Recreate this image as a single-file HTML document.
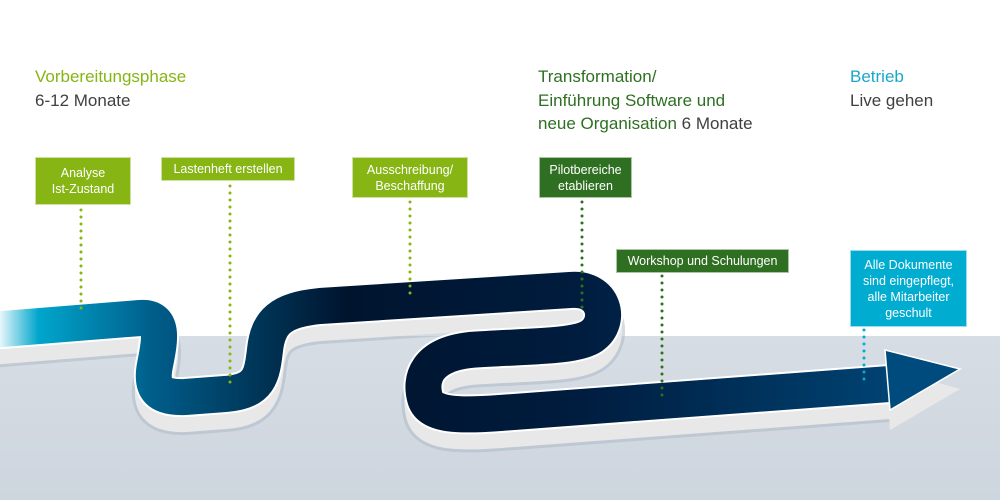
<!DOCTYPE html>
<html><head><meta charset="utf-8"><style>
body{margin:0;width:1000px;height:500px;overflow:hidden;background:#fff;font-family:"Liberation Sans",sans-serif;position:relative}
.t{position:absolute;font-size:17px;line-height:23.5px;color:#404040}
.b{position:absolute;color:#fff;font-size:12.5px;line-height:16px;text-align:center;display:flex;align-items:center;justify-content:center;box-sizing:border-box;border:1px solid rgba(255,255,255,.6)}
.lg{background:#86b514}.dg{background:#2f6f22}.cy{background:#00acd0}
</style></head><body>
<svg width="1000" height="500" style="position:absolute;left:0;top:0">
<defs>
<linearGradient id="rd" x1="0" x2="960" gradientUnits="userSpaceOnUse">
<stop offset="0" stop-color="#e6f6fb"/><stop offset="0.04" stop-color="#00a6cc"/><stop offset="0.16" stop-color="#005d8a"/><stop offset="0.36" stop-color="#00142e"/><stop offset="0.6" stop-color="#001c3e"/><stop offset="1" stop-color="#004b7e"/>
</linearGradient>
<linearGradient id="fl" x1="0" y1="336" x2="0" y2="500" gradientUnits="userSpaceOnUse"><stop offset="0" stop-color="#d7dde4"/><stop offset="1" stop-color="#cdd5de"/></linearGradient>
<path id="road" d="M -10 330 L 140 318 C 165 316, 160 340, 155 365 C 150 390, 160 398, 185 397 L 225 394 C 260 392, 262 375, 265 350 C 268 322, 280 310, 320 306 L 570 290 C 605 287, 612 322, 592 336 C 575 348, 520 346, 470 350 C 425 355, 420 380, 425 398 C 430 416, 460 416, 500 413 L 890 384"/>
</defs>
<rect x="0" y="336" width="1000" height="164" fill="url(#fl)"/>
<g transform="translate(0,16)" fill="none" stroke-linejoin="round">
<use href="#road" stroke="#aab8c6" stroke-width="44" opacity=".5"/>
<use href="#road" stroke="#e8e8e8" stroke-width="38"/>
<polygon points="886,352 960,373 890,414" fill="#e8e8e8"/>
</g>
<g fill="none">
<use href="#road" stroke="#fff" stroke-width="40" stroke-linejoin="round"/>
<use href="#road" stroke="url(#rd)" stroke-width="36" stroke-linejoin="round"/>
</g>
<polygon points="885,350 960,369 890,410" fill="#004b7e" stroke="#fff" stroke-width="1.5"/>
<g stroke-width="3" stroke-linecap="round" stroke-dasharray="0 7">
<line x1="81" y1="210" x2="81" y2="312" stroke="#86b514"/>
<line x1="230" y1="186" x2="230" y2="385" stroke="#86b514"/>
<line x1="410" y1="202" x2="410" y2="295" stroke="#86b514"/>
<line x1="582" y1="202" x2="582" y2="310" stroke="#2f6f22"/>
<line x1="662" y1="276" x2="662" y2="402" stroke="#2f6f22"/>
<line x1="864" y1="330" x2="864" y2="380" stroke="#00acd0"/>
</g>
</svg>
<div class="t" style="left:35px;top:65px"><span style="color:#86b514">Vorbereitungsphase</span><br>6-12 Monate</div>
<div class="t" style="left:538px;top:65px"><span style="color:#2f6f22">Transformation/<br>Einführung Software und<br>neue Organisation</span> 6 Monate</div>
<div class="t" style="left:850px;top:65px"><span style="color:#1aa6cc">Betrieb</span><br>Live gehen</div>
<div class="b lg" style="left:35px;top:157px;width:96px;height:48px">Analyse<br>Ist-Zustand</div>
<div class="b lg" style="left:161px;top:157px;width:134px;height:24px">Lastenheft erstellen</div>
<div class="b lg" style="left:352px;top:157px;width:116px;height:41px">Ausschreibung/<br>Beschaffung</div>
<div class="b dg" style="left:539px;top:157px;width:93px;height:41px">Pilotbereiche<br>etablieren</div>
<div class="b dg" style="left:616px;top:249px;width:173px;height:24px">Workshop und Schulungen</div>
<div class="b cy" style="left:850px;top:250px;width:117px;height:77px">Alle Dokumente<br>sind eingepflegt,<br>alle Mitarbeiter<br>geschult</div>
</body></html>
